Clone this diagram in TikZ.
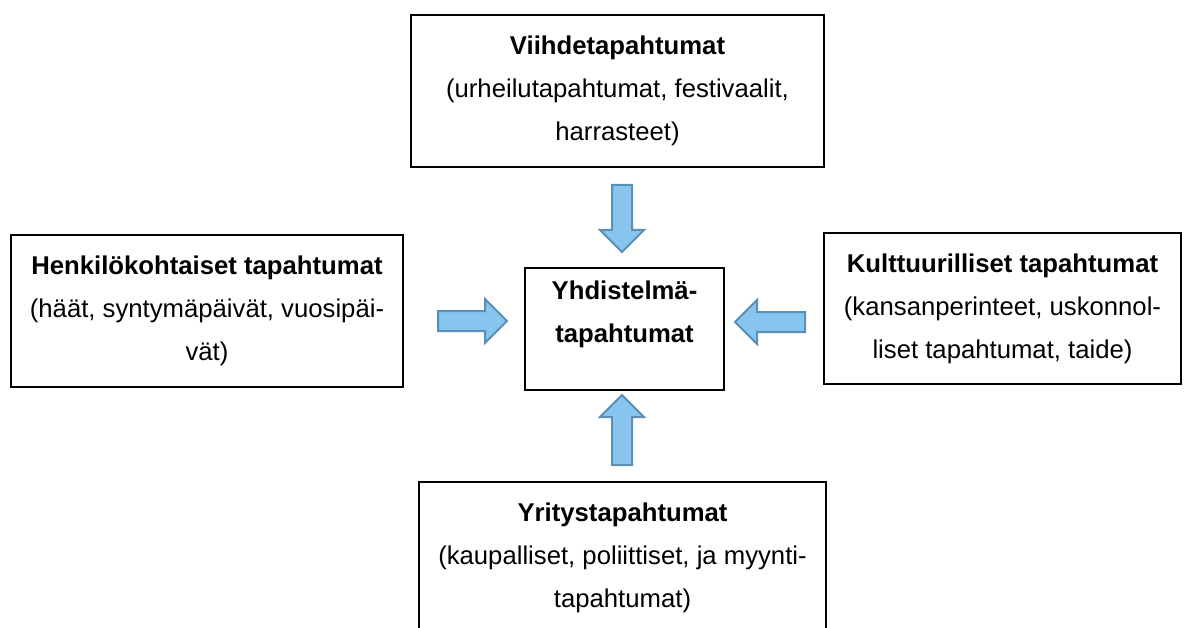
\documentclass[tikz,border=0pt]{standalone}
\usepackage{fontspec}
\setmainfont{Liberation Sans}
\usetikzlibrary{positioning,shapes.arrows}
\definecolor{arrowfill}{RGB}{135,197,238}
\definecolor{arrowline}{RGB}{92,142,182}
\begin{document}
\begin{tikzpicture}[x=1pt, y=-1pt,
  main/.style = {draw, line width=1.6pt, align=center, inner sep=0pt, font=\fontsize{25.7}{43}\selectfont},
  flow/.style = {single arrow, draw=arrowline, fill=arrowfill, line width=2pt, inner sep=9pt, minimum width=42pt, single arrow head extend=12pt}]
\clip (0,0) rectangle (1190,628);

\node[main, minimum width=413pt, minimum height=152pt] (viihde) at (617.5,91) {\textbf{Viihdetapahtumat}\\(urheilutapahtumat, festivaalit,\\harrasteet)};
\node[main, minimum width=392pt, minimum height=152pt] (henk) at (207,311) {\textbf{Henkilökohtaiset tapahtumat}\\(häät, syntymäpäivät, vuosipäi-\\vät)};
\node[main, minimum width=357pt, minimum height=151pt] (kult) at (1002.5,308.5) {\textbf{Kulttuurilliset tapahtumat}\\(kansanperinteet, uskonnol-\\liset tapahtumat, taide)};
\node[main, minimum width=407pt, minimum height=152pt] (yritys) at (622.5,558) {\textbf{Yritystapahtumat}\\(kaupalliset, poliittiset, ja myynti-\\tapahtumat)};
\node[main, minimum width=199pt, minimum height=122pt] (yhd) at (624.5,329) {};
\node[main, draw=none, below=13pt of yhd.north] (yhdtext) {\textbf{Yhdistelmä-}\\\textbf{tapahtumat}};

\node[flow, minimum height=67pt, shape border rotate=270] (down) at (622,213.5) {};
\node[flow, minimum height=69pt] (right) at (467.5,321) {};
\node[flow, minimum height=70pt, shape border rotate=180] (left) at (775,322) {};
\node[flow, minimum height=70pt, shape border rotate=90] (up) at (622,435) {};

\end{tikzpicture}
\end{document}
